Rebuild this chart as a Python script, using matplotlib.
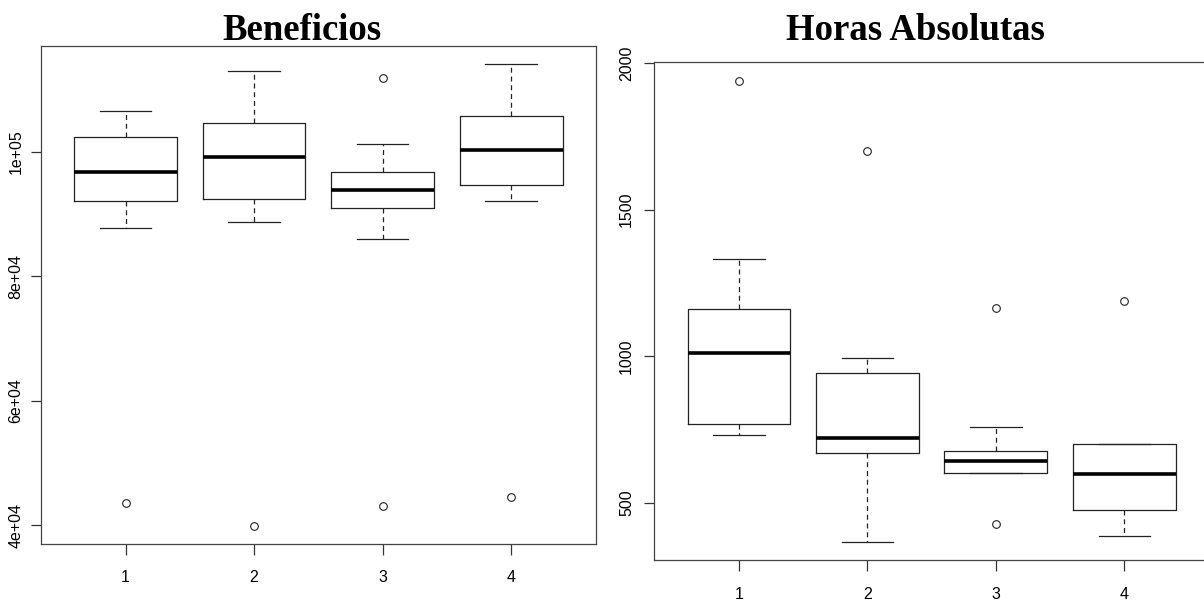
import matplotlib
matplotlib.use("Agg")
import matplotlib.pyplot as plt
import numpy as np

# ---- Data ----
groups = [1, 2, 3, 4]

# Beneficios
ben_whislo = [87708, 88718, 85897, 91987]
ben_q1 = [91987, 92356, 90913, 94712]
ben_med = [96731, 99199, 93910, 100256]
ben_q3 = [102292, 104535, 96731, 105657]
ben_whishi = [106506, 112869, 101218, 113990]
ben_fliers = [[43638], [39952], [111859, 43029], [44476]]
ben_yticks = [40000, 60000, 80000, 100000]
ben_yticklabels = ["4e+04", "6e+04", "8e+04", "1e+05"]

# Horas Absolutas
hor_whislo = [733, 368, 601, 389]
hor_q1 = [769, 670, 604, 476]
hor_med = [1011, 721, 642, 600]
hor_q3 = [1160, 943, 676, 700]
hor_whishi = [1330, 994, 761, 702]
hor_fliers = [[1939], [1701], [1164, 430], [1187]]
hor_yticks = [500, 1000, 1500, 2000]
hor_yticklabels = ["500", "1000", "1500", "2000"]

titles = ["Beneficios", "Horas Absolutas"]

W, H = 1204, 601
fig = plt.figure(figsize=(W / 100, H / 100), dpi=100)


def make_stats(lo, q1, med, q3, hi, fl):
    return [dict(whislo=a, q1=b, med=c, q3=d, whishi=e, fliers=f)
            for a, b, c, d, e, f in zip(lo, q1, med, q3, hi, fl)]


def r_range(lo, hi, fl):
    vals = list(lo) + list(hi) + [v for f in fl for v in f]
    mn, mx = min(vals), max(vals)
    pad = 0.04 * (mx - mn)
    return mn - pad, mx + pad


def draw(ax, stats, ylim, yticks, ylabels, ypad):
    ax.bxp(stats, positions=groups, widths=0.8, capwidths=0.4,
           showfliers=True,
           boxprops=dict(color="#222222", linewidth=0.9),
           medianprops=dict(color="black", linewidth=2.6, solid_capstyle="butt"),
           whiskerprops=dict(color="#222222", linewidth=0.9, linestyle=(0, (4, 3))),
           capprops=dict(color="#222222", linewidth=0.9),
           flierprops=dict(marker="o", markersize=5.5, markerfacecolor="none",
                           markeredgecolor="#222222", markeredgewidth=0.8,
                           linestyle="none"))
    ax.set_xlim(0.34, 4.66)
    ax.set_ylim(*ylim)
    ax.set_xticks(groups)
    ax.set_xticklabels([str(g) for g in groups], fontsize=11.5, family="Liberation Sans")
    ax.set_yticks(yticks)
    ax.set_yticklabels(ylabels, fontsize=11.5, family="Liberation Sans",
                       rotation=90, va="center")
    ax.tick_params(axis="x", length=8, width=0.9, pad=11, color="#333333")
    ax.tick_params(axis="y", length=7.5, width=0.9, pad=ypad, color="#333333")
    for s in ax.spines.values():
        s.set_linewidth(0.9)
        s.set_color("#444444")


# Left panel
ax1 = fig.add_axes([40.7 / W, 1 - 544 / H, (596 - 40.7) / W, (544 - 46) / H])
draw(ax1, make_stats(ben_whislo, ben_q1, ben_med, ben_q3, ben_whishi, ben_fliers),
     r_range(ben_whislo, ben_whishi, ben_fliers), ben_yticks, ben_yticklabels, 5)

# Right panel (extends beyond right edge as in the reference)
ax2 = fig.add_axes([654.3 / W, 1 - 560.3 / H, (1209 - 654.3) / W, (560.3 - 62.3) / H])
draw(ax2, make_stats(hor_whislo, hor_q1, hor_med, hor_q3, hor_whishi, hor_fliers),
     r_range(hor_whislo, hor_whishi, hor_fliers), hor_yticks, hor_yticklabels, 7)

fig.text(302 / W, 1 - 40 / H, titles[0], ha="center", va="baseline",
         fontsize=26.5, fontweight="bold", family="Liberation Serif")
fig.text(915 / W, 1 - 40 / H, titles[1], ha="center", va="baseline",
         fontsize=26.5, fontweight="bold", family="Liberation Serif")

fig.savefig("out.png", dpi=100)
